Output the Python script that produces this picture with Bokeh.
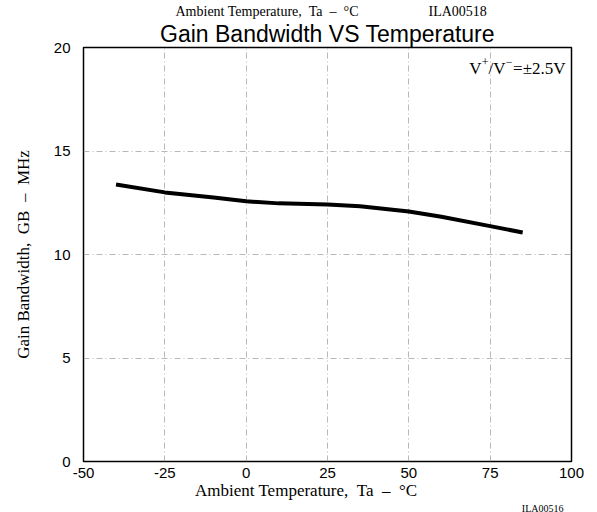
from bokeh.plotting import figure
from bokeh.models import Label, Range1d, FixedTicker, Title
from bokeh.embed import file_html
from bokeh.resources import INLINE

temperature = [-40, -25, -10, 0, 10, 25, 35, 50, 60, 75, 85]
gain_bw = [13.38, 13.0, 12.75, 12.57, 12.47, 12.41, 12.33, 12.08, 11.82, 11.37, 11.06]
x_ticks = [-50, -25, 0, 25, 50, 75, 100]
y_ticks = [0, 5, 10, 15, 20]

NB = "\u00a0"
temp_label = "Ambient Temperature," + NB * 2 + "Ta" + NB * 2 + "\u2013" + NB * 2 + "\u00b0C"

p = figure(width=597, height=512, output_backend="svg", toolbar_location=None,
           x_range=Range1d(-50, 100), y_range=Range1d(0, 20),
           min_border_left=83, min_border_right=26, min_border_top=47, min_border_bottom=51,
           title=temp_label + NB * 20 + "ILA00518")
# outermost (clipped in the original scan) note
p.title.text_font = "Liberation Serif"
p.title.text_font_size = "14px"
p.title.text_font_style = "normal"
p.title.text_color = "black"
p.title.align = "left"
p.title.offset = 92
p.title.standoff = 0

main_title = Title(text="Gain Bandwidth VS Temperature", text_font="Liberation Sans",
                   text_font_size="23px", text_font_style="normal", text_color="black",
                   align="center", standoff=1)
p.add_layout(main_title, "above")

p.background_fill_color = "white"
p.border_fill_color = "white"
p.outline_line_color = "black"
p.outline_line_width = 1.5

for ax in (p.xaxis[0], p.yaxis[0]):
    ax.axis_line_color = None
    ax.major_tick_line_color = None
    ax.minor_tick_line_color = None
    ax.major_label_text_font = "Liberation Sans"
    ax.major_label_text_font_size = "15px"
    ax.major_label_text_color = "black"
    ax.axis_label_text_font = "Liberation Serif"
    ax.axis_label_text_font_size = "17px"
    ax.axis_label_text_font_style = "normal"
    ax.axis_label_text_color = "black"
p.xaxis.ticker = FixedTicker(ticks=x_ticks)
p.yaxis.ticker = FixedTicker(ticks=y_ticks)
p.xaxis.major_label_overrides = {t: str(t) for t in x_ticks}
p.xaxis.major_label_standoff = 0
p.yaxis.major_label_standoff = 7
p.xaxis.axis_label = temp_label + NB * 10
p.xaxis.axis_label_standoff = 0
p.yaxis.axis_label = "Gain Bandwidth," + NB * 2 + "GB" + NB * 2 + "\u2013" + NB * 2 + "MHz"
p.yaxis.axis_label_standoff = 18

code_note = Title(text="ILA00516", text_font="Liberation Serif", text_font_size="10px",
                  text_font_style="normal", text_color="black", align="right", offset=8)
try:
    code_note.standoff = -4
except Exception:
    code_note.standoff = 0
p.add_layout(code_note, "below")

p.xgrid.ticker = FixedTicker(ticks=x_ticks)
p.ygrid.ticker = FixedTicker(ticks=y_ticks)
for g in (p.xgrid[0], p.ygrid[0]):
    g.grid_line_color = "#9a9a9a"
    g.grid_line_dash = "6 3 1 3"
    g.grid_line_width = 0.7

p.line(temperature, gain_bw, line_color="black", line_width=4)

# "V+/V- = ±2.5V" with raised signs, built right to left (screen units, frame-relative)
pieces = [("=\u00b12.5V", 482, 393, "17px"),
          ("\u2212", 429, 400, "12px"),
          ("/V", 422, 393, "17px"),
          ("+", 405, 400, "12px"),
          ("V", 398, 393, "17px")]
for txt, xr, yb, fs in pieces:
    p.add_layout(Label(x=xr, y=yb, x_units="screen", y_units="screen", text=txt,
                       text_font="Liberation Serif", text_font_size=fs, text_color="black",
                       text_align="right", text_baseline="alphabetic"))

open("out.html", "w").write(file_html(p, INLINE))
